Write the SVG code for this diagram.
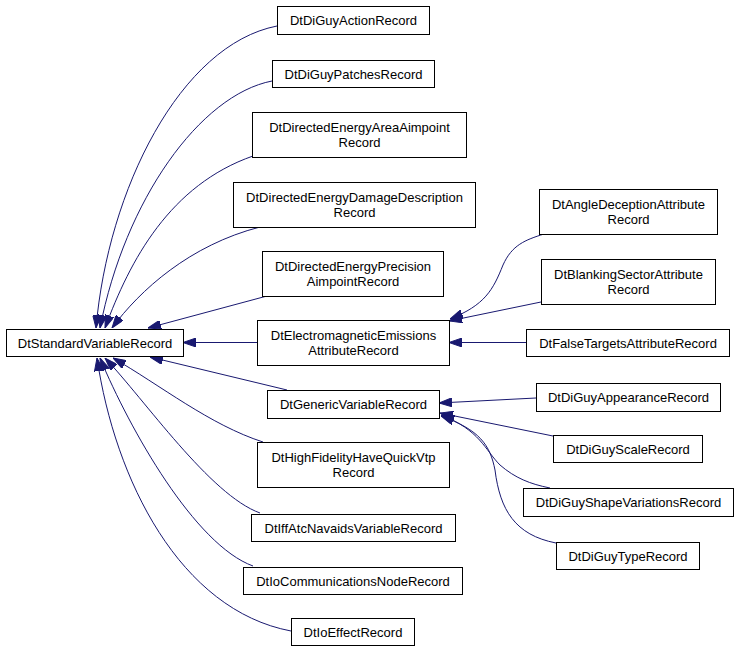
<svg xmlns="http://www.w3.org/2000/svg" width="739" height="653" viewBox="0 0 739 653">
<style>
.n rect{fill:#fff;stroke:#000;stroke-width:1}
.n text{font-family:"Liberation Sans",Arial,sans-serif;font-size:13px;fill:#000;text-anchor:middle}
.e path{fill:none;stroke:#191970;stroke-width:1;marker-start:url(#a)}
</style>
<defs>
<marker id="a" viewBox="0 0 13 9" refX="13" refY="4.5" markerWidth="13" markerHeight="9" markerUnits="userSpaceOnUse" orient="auto-start-reverse">
<path d="M0,0 L13,4.5 L0,9 z" fill="#191970" stroke="#191970"/>
</marker>
</defs>
<rect width="739" height="653" fill="#fff"/>
<g class="e" id="edges">
<path d="M96,328 C 108,190 180,45 277,26"/>
<path d="M100,328 C 125,200 200,95 272,81"/>
<path d="M105,328 C 130,260 170,185 253,156"/>
<path d="M112,328 C 140,290 190,245 260,227"/>
<path d="M148,328 L267,296"/>
<path d="M183,342.5 L257,342.5"/>
<path d="M150,357 L287,390"/>
<path d="M113,358 C 160,385 210,425 263,442"/>
<path d="M105,358 C 145,400 210,495 260,513"/>
<path d="M100,358 C 130,430 195,545 253,566"/>
<path d="M97,358 C 115,480 180,610 291,631"/>
<path d="M450,319 C 485,305 493,290 503,265 C 512,245 525,240 544,234"/>
<path d="M449,321 L541,302"/>
<path d="M449,342.5 L526,342.5"/>
<path d="M439,403 L536,398"/>
<path d="M440,413 L553,436"/>
<path d="M441,415 C 480,430 485,450 500,465 C 515,478 530,484 550,488"/>
<path d="M441,416 C 480,430 490,445 495,470 C 500,510 515,535 556,543"/>
</g>
<g class="n" id="DtStandardVariableRecord"><rect x="6.5" y="329.5" width="177" height="27"/><text x="95" y="347.5">DtStandardVariableRecord</text></g>
<g class="n" id="DtDiGuyActionRecord"><rect x="277.5" y="6.5" width="152" height="28"/><text x="353.5" y="25">DtDiGuyActionRecord</text></g>
<g class="n" id="DtDiGuyPatchesRecord"><rect x="272.5" y="60.5" width="162" height="27"/><text x="353.5" y="78.5">DtDiGuyPatchesRecord</text></g>
<g class="n" id="DtDirectedEnergyAreaAimpointRecord"><rect x="252.5" y="112.5" width="214" height="45"/><text x="359.5" y="132">DtDirectedEnergyAreaAimpoint</text><text x="359.5" y="147">Record</text></g>
<g class="n" id="DtDirectedEnergyDamageDescriptionRecord"><rect x="233.5" y="182.5" width="242" height="45"/><text x="354.5" y="202">DtDirectedEnergyDamageDescription</text><text x="354.5" y="217">Record</text></g>
<g class="n" id="DtDirectedEnergyPrecisionAimpointRecord"><rect x="262.5" y="251.5" width="181" height="45"/><text x="353" y="271">DtDirectedEnergyPrecision</text><text x="353" y="286">AimpointRecord</text></g>
<g class="n" id="DtElectromagneticEmissionsAttributeRecord"><rect x="257.5" y="320.5" width="192" height="45"/><text x="353.5" y="340">DtElectromagneticEmissions</text><text x="353.5" y="355">AttributeRecord</text></g>
<g class="n" id="DtGenericVariableRecord"><rect x="267.5" y="390.5" width="172" height="28"/><text x="353.5" y="409">DtGenericVariableRecord</text></g>
<g class="n" id="DtHighFidelityHaveQuickVtpRecord"><rect x="257.5" y="442.5" width="192" height="45"/><text x="353.5" y="462">DtHighFidelityHaveQuickVtp</text><text x="353.5" y="477">Record</text></g>
<g class="n" id="DtIffAtcNavaidsVariableRecord"><rect x="251.5" y="514.5" width="204" height="27"/><text x="353.5" y="532.5">DtIffAtcNavaidsVariableRecord</text></g>
<g class="n" id="DtIoCommunicationsNodeRecord"><rect x="243.5" y="567.5" width="219" height="27"/><text x="353" y="585.5">DtIoCommunicationsNodeRecord</text></g>
<g class="n" id="DtIoEffectRecord"><rect x="291.5" y="618.5" width="123" height="27"/><text x="353" y="636.5">DtIoEffectRecord</text></g>
<g class="n" id="DtAngleDeceptionAttributeRecord"><rect x="539.5" y="189.5" width="178" height="45"/><text x="628.5" y="209">DtAngleDeceptionAttribute</text><text x="628.5" y="224">Record</text></g>
<g class="n" id="DtBlankingSectorAttributeRecord"><rect x="541.5" y="259.5" width="174" height="45"/><text x="628.5" y="279">DtBlankingSectorAttribute</text><text x="628.5" y="294">Record</text></g>
<g class="n" id="DtFalseTargetsAttributeRecord"><rect x="526.5" y="329.5" width="203" height="27"/><text x="628" y="347.5">DtFalseTargetsAttributeRecord</text></g>
<g class="n" id="DtDiGuyAppearanceRecord"><rect x="536.5" y="383.5" width="184" height="28"/><text x="628.5" y="402">DtDiGuyAppearanceRecord</text></g>
<g class="n" id="DtDiGuyScaleRecord"><rect x="553.5" y="435.5" width="149" height="27"/><text x="628" y="453.5">DtDiGuyScaleRecord</text></g>
<g class="n" id="DtDiGuyShapeVariationsRecord"><rect x="523.5" y="488.5" width="210" height="28"/><text x="628.5" y="507">DtDiGuyShapeVariationsRecord</text></g>
<g class="n" id="DtDiGuyTypeRecord"><rect x="556.5" y="542.5" width="143" height="27"/><text x="628" y="560.5">DtDiGuyTypeRecord</text></g>
</svg>
